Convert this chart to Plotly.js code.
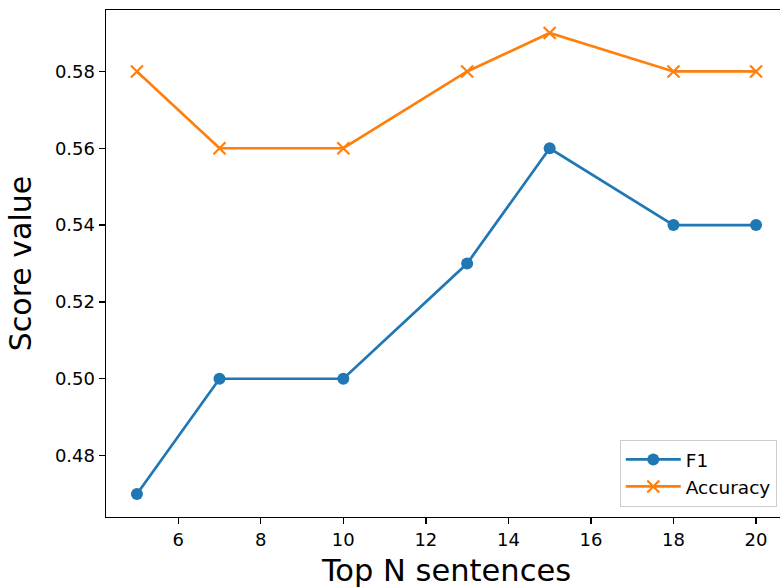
<!DOCTYPE html>
<html>
<head>
<meta charset="utf-8">
<script src="https://cdn.plot.ly/plotly-3.0.1.min.js"></script>
<style>
html, body { margin:0; padding:0; overflow:hidden; width:780px; height:588px; background:#fff; }
#chart { width:788px; height:588px; }
</style>
</head>
<body>
<div id="chart"></div>
<script>
const topN = [5, 7, 10, 13, 15, 18, 20];
const f1 = [0.47, 0.50, 0.50, 0.53, 0.56, 0.54, 0.54];
const accuracy = [0.58, 0.56, 0.56, 0.58, 0.59, 0.58, 0.58];
const xTicks = [6, 8, 10, 12, 14, 16, 18, 20];
const yTicks = [0.48, 0.50, 0.52, 0.54, 0.56, 0.58];

const font = "DejaVu Sans, sans-serif";
const traces = [
  { x: topN, y: f1, name: "F1", type: "scatter", mode: "lines+markers",
    line: { color: "#1f77b4", width: 2.7 },
    marker: { symbol: "circle", size: 12, color: "#1f77b4" } },
  { x: topN, y: accuracy, name: "Accuracy", type: "scatter", mode: "lines+markers",
    line: { color: "#ff7f0e", width: 2.7 },
    marker: { symbol: "x-thin-open", size: 12, color: "#ff7f0e", line: { color: "#ff7f0e", width: 2.2 } } }
];
const axisCommon = {
  showline: true, linecolor: "#000", linewidth: 1.4, mirror: true,
  ticks: "outside", ticklen: 6, tickwidth: 1.4, tickcolor: "#000",
  showgrid: false, zeroline: false,
  tickfont: { family: font, size: 18, color: "#000" }
};
const layout = {
  width: 788, height: 588, autosize: false,
  margin: { l: 106, r: 1, t: 10, b: 71 },
  paper_bgcolor: "#fff", plot_bgcolor: "#fff",
  font: { family: font, color: "#000" },
  xaxis: Object.assign({}, axisCommon, {
    range: [4.25, 20.75], tickvals: xTicks,
    title: { text: "Top N sentences", font: { family: font, size: 30.5, color: "#000" }, standoff: 12 }
  }),
  yaxis: Object.assign({}, axisCommon, {
    range: [0.464, 0.596], tickvals: yTicks, tickformat: ".2f",
    title: { text: "Score value", font: { family: font, size: 30, color: "#000" }, standoff: 14 }
  }),
  legend: {
    x: 0.985, y: 0.02, xanchor: "right", yanchor: "bottom",
    bgcolor: "rgba(255,255,255,0.8)", bordercolor: "#cccccc", borderwidth: 1,
    font: { family: font, size: 18.5, color: "#000" },
    tracegroupgap: 0, itemwidth: 55
  },
  showlegend: true
};
Plotly.newPlot("chart", traces, layout, { displayModeBar: false, staticPlot: true });
</script>
</body>
</html>
